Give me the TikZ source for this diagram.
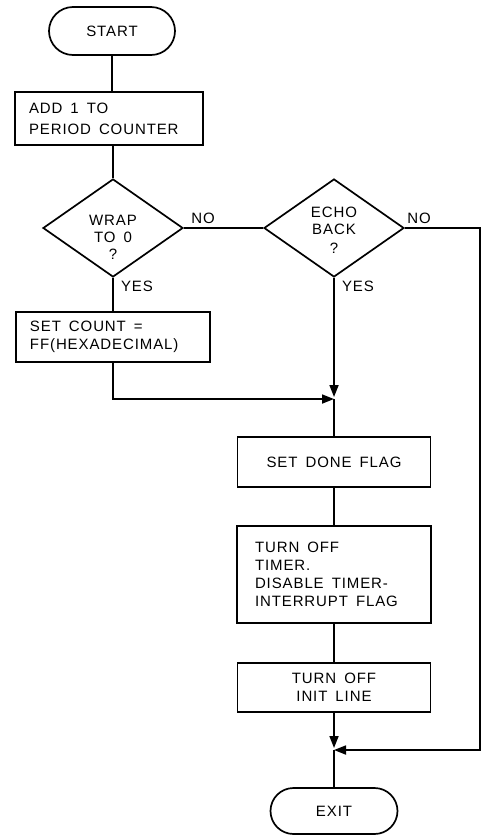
\documentclass[tikz,border=0pt]{standalone}
\usepackage{fontspec}
\setmainfont{Liberation Sans}[LetterSpace=6]
\usetikzlibrary{shapes.geometric,shapes.misc,arrows.meta}
\newcommand\wg{\hspace{8pt}}
\begin{document}
\begin{tikzpicture}[x=1pt,y=-1pt,
 every node/.style={font=\fontsize{15}{18}\selectfont},
 ln/.style={line width=1.7pt},
 term/.style={draw,ln,rounded rectangle,minimum width=126pt,minimum height=48pt,inner sep=0pt},
 box/.style={draw,ln,rectangle,inner ysep=0pt},
 dec/.style={draw,ln,diamond,minimum width=140pt,minimum height=98pt,inner sep=0pt},
 lbl/.style={inner sep=0pt},
 arr/.style={ln,-{Triangle[length=12pt,width=9pt]}}]
\useasboundingbox (0,0) rectangle (486,836);
\node[term] (start) at (112,31) {START};
\node[box,minimum width=188pt,minimum height=53pt,inner xsep=14pt,text width=160pt,align=left] (add) at (109,118.5) {ADD\wg 1\wg TO\\[3pt]PERIOD\wg COUNTER};
\node[dec] (wrap) at (113,228) {};
\node[align=center,font=\fontsize{15}{17}\selectfont] (wraptxt) at (113,237) {WRAP\\TO\wg 0\\?};
\node[dec] (echo) at (334,228) {};
\node[align=center,font=\fontsize{15}{17}\selectfont] (echotxt) at (334,230) {ECHO\\BACK\\[2pt]?};
\node[box,minimum width=194pt,minimum height=50pt,inner xsep=14pt,text width=166pt,align=left] (setc) at (113,337) {SET\wg COUNT\wg =\\FF(HEXADECIMAL)};
\node[box,minimum width=193pt,minimum height=50pt,align=center] (done) at (334,462) {SET\wg DONE\wg FLAG};
\node[box,minimum width=194pt,minimum height=97pt,inner xsep=18pt,text width=158pt,align=left] (timer) at (334,574.5) {TURN\wg OFF\\TIMER.\\DISABLE\wg TIMER-\\INTERRUPT\wg FLAG};
\node[box,minimum width=193pt,minimum height=49pt,align=center] (init) at (334,687.5) {TURN\wg OFF\\INIT\wg LINE};
\node[term,minimum width=127pt,minimum height=46pt] (exit) at (334,811) {EXIT};
\node[lbl] (no1) at (203,218) {NO};
\node[lbl] (no2) at (419,218) {NO};
\node[lbl] (yes1) at (137,286) {YES};
\node[lbl] (yes2) at (358,286) {YES};
\coordinate (m1) at (334,399);
\coordinate (m2) at (334,750);
\coordinate (r1) at (480,228);
\coordinate (r2) at (480,750);
\draw[ln] (start.south) -- (start.south |- add.north);
\draw[ln] (wrap.north |- add.south) -- (wrap.north);
\draw[ln] (wrap.east) -- (echo.west);
\draw[ln] (wrap.south) -- (wrap.south |- setc.north);
\draw[arr] (setc.south) |- (m1);
\draw[arr,shorten >=2pt] (echo.south) -- (m1);
\draw[ln] (m1) -- (done.north);
\draw[ln] (done) -- (timer);
\draw[ln] (timer) -- (init);
\draw[arr,shorten >=2pt] (init) -- (m2);
\draw[arr] (echo.east) -- (r1) -- (r2) -- (m2);
\draw[ln] (m2) -- (exit);
\end{tikzpicture}
\end{document}
